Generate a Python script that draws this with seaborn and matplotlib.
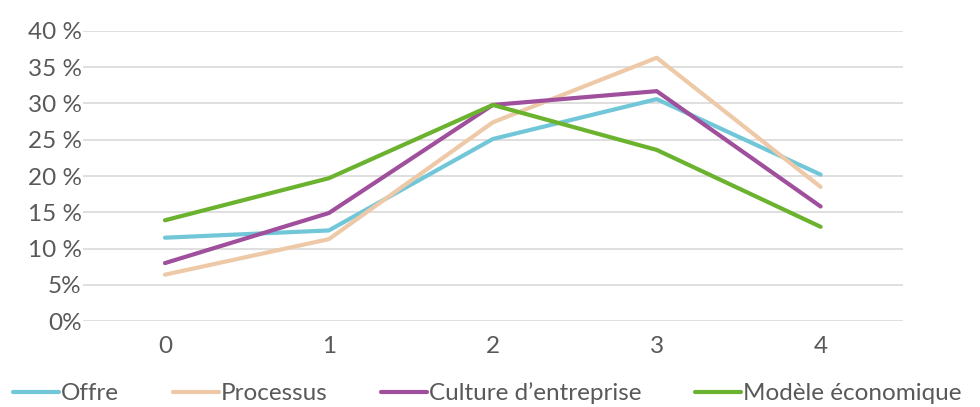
"""Line chart: share per score (0-4) for four innovation dimensions."""
import pandas as pd
import seaborn as sns
import matplotlib.pyplot as plt
from matplotlib.ticker import FixedLocator, FixedFormatter

# data
scores = [0, 1, 2, 3, 4]
offre = [11.5, 12.5, 25.1, 30.6, 20.2]
processus = [6.4, 11.3, 27.4, 36.3, 18.5]
culture = [8.0, 14.9, 29.8, 31.7, 15.8]
modele = [13.9, 19.7, 29.8, 23.6, 13.0]
series_names = ["Offre", "Processus", "Culture d’entreprise", "Modèle économique"]
ytick_values = [0, 5, 10, 15, 20, 25, 30, 35, 40]
ytick_labels = ["0%", "5%", "10 %", "15 %", "20 %", "25 %", "30 %", "35 %", "40 %"]

colors = ["#71C7D8", "#EDC9A8", "#9F4F9B", "#6BB22E"]

rows = []
for name, vals in zip(series_names, [offre, processus, culture, modele]):
    for s, v in zip(scores, vals):
        rows.append({"score": s, "share": v, "serie": name})
df = pd.DataFrame(rows)

sns.set_style("white")
plt.rcParams["font.family"] = ["Lato", "DejaVu Sans"]

fig = plt.figure(figsize=(9.8, 4.07), dpi=100)
ax = fig.add_axes([0.0847, 0.211, 0.8363, 0.713])

sns.lineplot(data=df, x="score", y="share", hue="serie",
             palette=dict(zip(series_names, colors)), linewidth=3.0,
             solid_capstyle="round", ax=ax, legend=False, zorder=3)

ax.set_xlim(-0.5, 4.5)
ax.set_ylim(0, 40)
ax.yaxis.set_major_locator(FixedLocator(ytick_values))
ax.yaxis.set_major_formatter(FixedFormatter(ytick_labels))
ax.set_xticks(scores)
ax.grid(axis="y", color="#D9D9D9", linewidth=1.2)
ax.grid(axis="x", visible=False)
for sp in ax.spines.values():
    sp.set_visible(False)
ax.tick_params(axis="both", length=0, labelsize=17.5, labelcolor="#595959")
ax.tick_params(axis="y", pad=1)
ax.tick_params(axis="x", pad=11)
ax.set_xlabel("")
ax.set_ylabel("")

handles = [plt.Line2D([], [], color=c, linewidth=3.0, solid_capstyle="round") for c in colors]
fig.legend(handles, series_names, loc="lower left", bbox_to_anchor=(-0.004, -0.035),
           ncol=4, frameon=False, fontsize=17.5, labelcolor="#595959",
           handlelength=1.9, handletextpad=0.08, columnspacing=2.2, borderpad=0.2)

plt.savefig("out.png", dpi=100)
